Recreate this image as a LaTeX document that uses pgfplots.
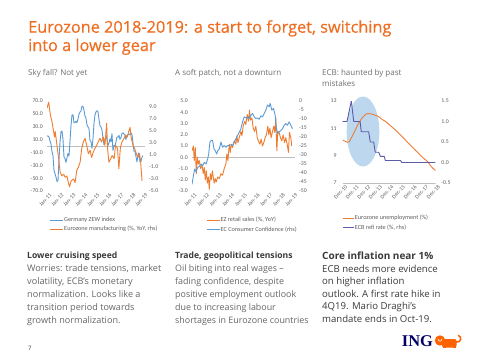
\documentclass[border=0pt]{standalone}
\usepackage{pgfplots}
\pgfplotsset{compat=1.18}
\usepackage{fontspec}
\setmainfont{Open Sans}
\newfontfamily\chartfont{Carlito}
\newfontfamily\titlefont{Open Sans}[FakeBold=0.45]
\definecolor{ingorange}{HTML}{EE6E22}
\definecolor{xlblue}{HTML}{5B9BD5}
\definecolor{xlorange}{HTML}{ED7D31}
\definecolor{refi}{HTML}{5B5BAA}
\definecolor{ellip}{HTML}{BDD7EE}
\definecolor{ticktext}{HTML}{5E5E5E}
\definecolor{subgray}{HTML}{6F6F6F}
\definecolor{bodygray}{HTML}{666666}
\definecolor{headgray}{HTML}{3A3A3A}
\definecolor{ingblue}{HTML}{000066}
\definecolor{lion}{HTML}{FF6200}
\definecolor{zeroline}{HTML}{BFBFBF}
\pgfplotsset{
  slide/.style={
    scale only axis,
    anchor=south west,
    axis line style={draw=none},
    tick style={draw=none},
    yticklabel style={font=\chartfont\fontsize{5.8}{6}\selectfont, text=ticktext, inner sep=1.5pt},
    xticklabel style={font=\chartfont\fontsize{5.6}{6}\selectfont, text=ticktext, rotate=45, anchor=north east, inner sep=0.6pt, yshift=-2.4pt, xshift=0.8pt},
    legend style={draw=none, fill=none, font=\chartfont\fontsize{6.2}{7}\selectfont, text=ticktext, anchor=north west, row sep=2.1pt, inner sep=0pt, nodes={inner sep=0.6pt}},
    legend cell align=left,
    legend image code/.code={\draw[##1] (0pt,0pt) -- (13pt,0pt);},
  },
  lefty/.style={ytick pos=left, yticklabel style={xshift=-2.5pt}},
  righty/.style={ytick pos=right, yticklabel pos=right, hide x axis, yticklabel style={xshift=2.5pt}},
  ser/.style={line width=0.9pt, line join=round},
}
\begin{document}
\begin{tikzpicture}[x=1pt,y=1pt]
\path[use as bounding box] (0,0) rectangle (480,360);
\fill[white] (0,0) rectangle (480,360);
% ---------- title and subtitles
\node[anchor=base west, inner sep=0, text=ingorange, font=\titlefont\fontsize{16.3}{18}\selectfont] at (28,360-32.7) {Eurozone 2018-2019: a start to forget, switching};
\node[anchor=base west, inner sep=0, text=ingorange, font=\titlefont\fontsize{16.3}{18}\selectfont] at (28,360-51) {into a lower gear};
\node[anchor=base west, inner sep=0, text=subgray, font=\fontsize{8}{9}\selectfont] at (28,360-75.5) {Sky fall? Not yet};
\node[anchor=base west, inner sep=0, text=subgray, font=\fontsize{8}{9}\selectfont] at (175,360-75.5) {A soft patch, not a downturn};
\node[anchor=base west, inner sep=0, text=subgray, font=\fontsize{8}{9}\selectfont] at (322,360-75.5) {ECB: haunted by past};
\node[anchor=base west, inner sep=0, text=subgray, font=\fontsize{8}{9}\selectfont] at (322,360-86.5) {mistakes};
% ---------- ellipse of chart 3 (behind)
\fill[ellip] (363,360-131.5) ellipse [x radius=16.3, y radius=35];
% ---------- chart 1
\begin{axis}[slide, lefty, at={(47pt,169pt)}, width=98pt, height=90pt,
  xmin=2011, xmax=2019.17, ymin=-70, ymax=70,
  ytick={-70,-50,-30,-10,10,30,50,70},
  yticklabels={-70.0,-50.0,-30.0,-10.0,10.0,30.0,50.0,70.0},
  xtick={2011,2012,2013,2014,2015,2016,2017,2018,2019},
  xticklabels={Jan-11,Jan-12,Jan-13,Jan-14,Jan-15,Jan-16,Jan-17,Jan-18,Jan-19},
  xtick pos=bottom]
\draw[zeroline, line width=0.6pt] (axis cs:2011,0) -- (axis cs:2019.17,0);
\addplot[ser, xlblue] coordinates {
(2011.000,15.4)(2011.083,15.7)(2011.167,14.1)(2011.250,7.6)(2011.333,3.1)(2011.417,-9.0)(2011.500,-15.1)(2011.583,-37.6)(2011.667,-43.3)(2011.750,-48.3)(2011.833,-55.2)(2011.917,-53.8)
(2012.000,-21.6)(2012.083,5.4)(2012.167,22.3)(2012.250,23.4)(2012.333,10.8)(2012.417,-16.9)(2012.500,-19.6)(2012.583,-25.5)(2012.667,-18.2)(2012.750,-11.5)(2012.833,-15.7)(2012.917,6.9)
(2013.000,31.5)(2013.083,48.2)(2013.167,48.5)(2013.250,36.3)(2013.333,36.4)(2013.417,38.5)(2013.500,36.3)(2013.583,42.0)(2013.667,49.6)(2013.750,52.8)(2013.833,54.6)(2013.917,62.0)
(2014.000,61.7)(2014.083,55.7)(2014.167,46.6)(2014.250,43.2)(2014.333,33.1)(2014.417,29.8)(2014.500,27.1)(2014.583,8.6)(2014.667,6.9)(2014.750,-3.6)(2014.833,11.5)(2014.917,34.9)
(2015.000,48.4)(2015.083,53.0)(2015.167,54.8)(2015.250,53.3)(2015.333,41.9)(2015.417,31.5)(2015.500,29.7)(2015.583,25.0)(2015.667,12.1)(2015.750,1.9)(2015.833,10.4)(2015.917,16.1)
(2016.000,10.2)(2016.083,1.0)(2016.167,4.3)(2016.250,11.2)(2016.333,6.4)(2016.417,19.2)(2016.500,-6.8)(2016.583,0.5)(2016.667,0.5)(2016.750,6.2)(2016.833,13.8)(2016.917,13.8)
(2017.000,16.6)(2017.083,10.4)(2017.167,12.8)(2017.250,19.5)(2017.333,20.6)(2017.417,18.6)(2017.500,17.5)(2017.583,10.0)(2017.667,17.0)(2017.750,17.6)(2017.833,18.7)(2017.917,17.4)
(2018.000,20.4)(2018.083,17.8)(2018.167,5.1)(2018.250,-8.2)(2018.333,-8.2)(2018.417,-16.1)(2018.500,-24.7)(2018.583,-13.7)(2018.667,-10.6)(2018.750,-24.7)(2018.833,-24.1)(2018.917,-17.5)
(2019.000,-15.0)};
\end{axis}
\begin{axis}[slide, righty, at={(47pt,169pt)}, width=98pt, height=90pt,
  xmin=2011, xmax=2019.17, ymin=-5, ymax=10,
  ytick={-5,-3,-1,1,3,5,7,9},
  yticklabels={-5.0,-3.0,-1.0,1.0,3.0,5.0,7.0,9.0},
  legend style={at={(0.026,-0.283)}}]
\addlegendimage{ser, xlblue}
\addlegendentry{Germany ZEW index}
\addplot[ser, xlorange] coordinates {
(2011.00,8.8)(2011.14,9.8)(2011.28,7.7)(2011.41,6.6)(2011.55,4.9)(2011.63,4.0)(2011.69,4.9)(2011.83,2.6)(2011.97,0.4)
(2012.10,-1.9)(2012.24,-2.5)(2012.38,-2.2)(2012.52,-2.7)(2012.66,-2.5)(2012.79,-3.7)(2012.88,-4.3)
(2013.01,-3.3)(2013.21,-3.0)(2013.34,-3.6)(2013.48,-1.6)(2013.62,-1.0)(2013.76,-0.2)(2013.90,2.1)
(2014.03,3.2)(2014.17,3.8)(2014.31,2.6)(2014.45,1.2)(2014.59,1.8)(2014.72,0.6)(2014.86,1.5)
(2015.00,2.1)(2015.14,2.6)(2015.28,3.2)(2015.41,3.8)(2015.55,3.2)(2015.69,4.0)(2015.83,2.6)(2015.97,6.3)
(2016.05,2.1)(2016.16,-0.2)(2016.32,0.4)(2016.43,0.9)(2016.60,0.4)(2016.71,2.6)(2016.88,2.1)(2016.99,-1.3)
(2017.12,2.3)(2017.26,3.2)(2017.43,3.8)(2017.54,4.3)(2017.70,4.0)(2017.81,4.9)(2017.92,5.6)
(2018.03,3.8)(2018.17,2.6)(2018.31,2.1)(2018.45,1.2)(2018.59,0.6)(2018.72,1.2)(2018.81,-0.2)(2018.92,-3.3)};
\addlegendentry{Eurozone manufacturing (\%, YoY, rhs)}
\end{axis}
% ---------- chart 2
\begin{axis}[slide, lefty, at={(192pt,169pt)}, width=103pt, height=90pt,
  xmin=2011, xmax=2019.15, ymin=-3, ymax=5,
  ytick={-3,-2,-1,0,1,2,3,4,5},
  yticklabels={-3.0,-2.0,-1.0,0.0,1.0,2.0,3.0,4.0,5.0},
  xtick={2011,2012,2013,2014,2015,2016,2017,2018,2019},
  xticklabels={Jan-11,Jan-12,Jan-13,Jan-14,Jan-15,Jan-16,Jan-17,Jan-18,Jan-19},
  xtick pos=bottom]
\draw[zeroline, line width=0.6pt] (axis cs:2011,0) -- (axis cs:2019.15,0);
\addplot[ser, xlorange] coordinates {
(2011.00,0.58)(2011.11,1.0)(2011.18,-0.3)(2011.26,0.87)(2011.34,-1.46)(2011.42,0.0)(2011.50,-0.6)(2011.58,-0.3)(2011.68,-1.0)(2011.79,-0.7)(2011.89,-1.46)(2011.97,-0.9)
(2012.05,-2.0)(2012.13,-1.2)(2012.21,-2.3)(2012.29,-1.75)(2012.37,-2.85)(2012.45,-1.46)(2012.53,-2.0)(2012.61,-1.2)(2012.68,-1.75)(2012.76,-2.3)(2012.84,-1.9)(2012.92,-2.2)
(2013.03,-1.75)(2013.16,-1.9)(2013.29,-1.46)(2013.42,-1.6)(2013.55,-1.0)(2013.68,-0.6)(2013.76,0.3)(2013.84,-0.3)(2013.95,1.16)
(2014.03,0.43)(2014.11,1.16)(2014.21,0.87)(2014.34,1.45)(2014.47,1.16)(2014.55,1.9)(2014.63,1.3)(2014.74,1.74)(2014.87,2.3)(2014.95,1.9)
(2015.05,2.76)(2015.16,3.2)(2015.26,2.9)(2015.37,3.8)(2015.47,3.2)(2015.55,4.2)(2015.63,3.3)(2015.74,3.5)(2015.84,2.6)(2015.95,2.3)
(2016.05,2.76)(2016.16,1.74)(2016.26,1.45)(2016.37,1.16)(2016.47,1.6)(2016.58,1.0)(2016.68,1.3)(2016.79,1.74)(2016.89,2.0)
(2017.00,2.76)(2017.08,2.0)(2017.16,2.6)(2017.26,1.74)(2017.37,2.3)(2017.47,2.76)(2017.55,2.2)(2017.63,3.5)(2017.71,0.58)(2017.79,2.3)(2017.89,2.2)
(2018.00,1.74)(2018.11,1.45)(2018.21,2.0)(2018.32,1.3)(2018.42,1.74)(2018.53,1.16)(2018.63,0.43)(2018.71,2.2)(2018.82,1.74)(2018.89,1.0)};
\end{axis}
\begin{axis}[slide, righty, at={(192pt,169pt)}, width=103pt, height=90pt,
  xmin=2011, xmax=2019.15, ymin=-50, ymax=0,
  ytick={-50,-45,-40,-35,-30,-25,-20,-15,-10,-5,0},
  yticklabels={-50,-45,-40,-35,-30,-25,-20,-15,-10,-5,0},
  legend style={at={(0.135,-0.283)}}]
\addlegendimage{ser, xlorange}
\addlegendentry{EZ retail sales (\%, YoY)}
\addplot[ser, xlblue] coordinates {
(2011.00,-46.3)(2011.11,-41.6)(2011.21,-37.8)(2011.32,-39.3)(2011.45,-36.9)(2011.58,-36.3)(2011.71,-35.0)(2011.84,-36.0)(2011.97,-34.1)
(2012.11,-35.0)(2012.24,-32.2)(2012.32,-29.4)(2012.42,-22.8)(2012.53,-21.9)(2012.63,-21.9)(2012.74,-26.6)(2012.84,-27.5)(2012.95,-29.4)
(2013.05,-27.5)(2013.16,-26.6)(2013.29,-22.8)(2013.42,-25.7)(2013.55,-24.7)(2013.68,-25.7)(2013.82,-24.7)(2013.95,-24.7)
(2014.08,-24.3)(2014.21,-24.7)(2014.34,-22.8)(2014.47,-21.0)(2014.61,-19.1)(2014.74,-17.2)(2014.87,-15.4)
(2015.00,-11.6)(2015.13,-8.8)(2015.26,-9.4)(2015.39,-8.8)(2015.53,-9.7)(2015.66,-7.9)(2015.79,-6.9)(2015.92,-8.8)
(2016.05,-9.7)(2016.18,-9.4)(2016.32,-10.1)(2016.45,-8.2)(2016.58,-8.8)(2016.71,-6.9)(2016.84,-5.1)(2016.97,-2.2)
(2017.11,-3.2)(2017.18,-1.3)(2017.32,-5.1)(2017.45,-4.1)(2017.58,-7.9)(2017.68,-15.4)(2017.79,-18.2)(2017.89,-17.2)
(2018.03,-16.3)(2018.16,-15.4)(2018.29,-13.5)(2018.42,-12.5)(2018.55,-13.5)(2018.68,-11.6)(2018.82,-13.5)(2018.95,-15.4)};
\addlegendentry{EC Consumer Confidence (rhs)}
\end{axis}
% ---------- chart 3
\begin{axis}[slide, lefty, at={(342.7pt,177pt)}, width=93pt, height=82pt,
  xmin=2010.917, xmax=2018.95, ymin=7, ymax=13,
  ytick={7,9,11,13}, yticklabels={7,9,11,13},
  yticklabel style={xshift=-2pt},
  xtick={2010.917,2011.917,2012.917,2013.917,2014.917,2015.917,2016.917,2017.917,2018.917},
  xticklabels={Dec-10,Dec-11,Dec-12,Dec-13,Dec-14,Dec-15,Dec-16,Dec-17,Dec-18},
  xtick pos=bottom]
\draw[zeroline, line width=0.6pt] (axis cs:2010.917,7) -- (axis cs:2018.95,7);
\addplot[ser, xlorange] coordinates {
(2010.917,10.15)(2011.09,10.07)(2011.29,9.98)(2011.49,10.02)(2011.72,10.40)(2012.01,10.89)(2012.30,11.39)(2012.59,11.76)(2012.87,12.01)
(2013.10,12.08)(2013.39,12.06)(2013.74,11.96)(2014.02,11.86)(2014.31,11.66)(2014.60,11.51)(2014.89,11.31)(2015.18,11.09)(2015.46,10.89)
(2015.75,10.64)(2016.04,10.40)(2016.33,10.15)(2016.61,9.90)(2016.90,9.65)(2017.19,9.40)(2017.48,9.16)(2017.77,8.91)(2018.05,8.71)
(2018.28,8.54)(2018.49,8.29)(2018.69,8.09)(2018.92,7.92)};
\end{axis}
\begin{axis}[slide, righty, at={(342.7pt,177pt)}, width=93pt, height=82pt,
  xmin=2010.917, xmax=2018.95, ymin=-0.5, ymax=1.5,
  ytick={-0.5,0,0.5,1,1.5}, yticklabels={-0.5,0.0,0.5,1.0,1.5},
  yticklabel style={xshift=1.5pt},
  legend image code/.code={\draw[#1] (0pt,0pt) -- (11pt,0pt);},
  legend style={at={(-0.005,-0.385)}}]
\addlegendimage{ser, xlorange}
\addlegendentry{Eurozone unemployment (\%)}
\addplot[ser, refi] coordinates {
(2010.917,1.0)(2011.29,1.0)(2011.66,1.5)(2011.87,1.0)(2012.42,1.0)(2012.52,0.75)(2013.16,0.75)(2013.30,0.5)(2013.59,0.5)(2013.73,0.25)
(2014.03,0.25)(2014.17,0.15)(2014.50,0.15)(2014.60,0.05)(2015.90,0.05)(2016.04,0.0)(2018.92,0.0)};
\addlegendentry{ECB refi rate (\%, rhs)}
\end{axis}
% ---------- text columns
\begin{scope}[every node/.style={anchor=base west, inner sep=0}]
\node[text=headgray, font=\bfseries\fontsize{8.6}{10}\selectfont] at (27,360-258.5) {Lower cruising speed};
\node[text=headgray, font=\bfseries\fontsize{8.6}{10}\selectfont] at (175,360-258.5) {Trade, geopolitical tensions};
\node[text=headgray, font=\bfseries\fontsize{10}{11}\selectfont] at (322,360-259.5) {Core inflation near 1\%};
\foreach \t [count=\i] in {{Worries: trade tensions, market},{volatility, ECB's monetary},{normalization. Looks like a},{transition period towards},{growth normalization.}}
  \node[text=bodygray, font=\fontsize{9.1}{10}\selectfont] at (27,360-258.5-13*\i) {\t};
\foreach \t [count=\i] in {{Oil biting into real wages –},{fading confidence, despite},{positive employment outlook},{due to increasing labour},{shortages in Eurozone countries}}
  \node[text=bodygray, font=\fontsize{8.9}{10}\selectfont] at (175,360-258.5-13*\i) {\t};
\foreach \t [count=\i] in {{ECB needs more evidence},{on higher inflation},{outlook. A first rate hike in},{4Q19. Mario Draghi's},{mandate ends in Oct-19.}}
  \node[text=headgray, font=\fontsize{9.6}{10}\selectfont] at (322,360-259.5-12.6*\i) {\t};
\node[text=headgray, font=\fontsize{6}{7}\selectfont] at (28,360-350) {7};
\node[text=ingblue, font=\fontspec{Liberation Serif}\bfseries\fontsize{16.4}{17}\selectfont] at (401.7,360-346.7) {ING};
\end{scope}
% ---------- lion mark
\fill[lion] (440,360-340.5) circle [radius=5.2];
\fill[lion, rounded corners=2] (442,360-347.5) rectangle (456.5,360-339);
\fill[lion] (443,360-348) rectangle (445.5,360-344);
\fill[lion] (453,360-348) rectangle (455.5,360-344);
\draw[lion, line width=1.5, line cap=round] (456,360-342) .. controls (461.5,360-343) and (462,360-336.5) .. (458.5,360-335.5);
\draw[white, line width=0.6] (438,360-339) .. controls (439,360-342) and (441,360-342) .. (442,360-339);
\end{tikzpicture}
\end{document}
